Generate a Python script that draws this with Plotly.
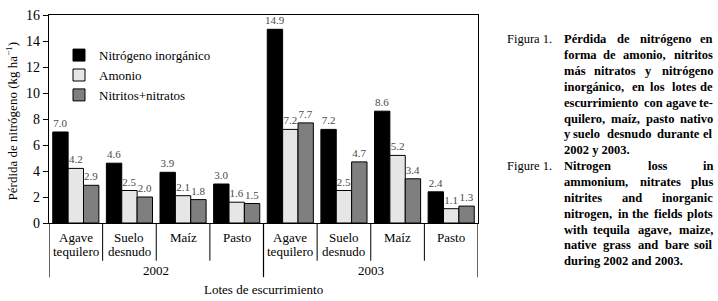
import plotly.graph_objects as go

# ---- data ----
lotes = ["Agave\ntequilero", "Suelo\ndesnudo", "Maíz", "Pasto",
         "Agave\ntequilero", "Suelo\ndesnudo", "Maíz", "Pasto"]
years = ["2002", "2003"]
series_names = ["Nitrógeno inorgánico", "Amonio", "Nitritos+nitratos"]
inorganico = [7.0, 4.6, 3.9, 3.0, 14.9, 7.2, 8.6, 2.4]
amonio = [4.2, 2.5, 2.1, 1.6, 7.2, 2.5, 5.2, 1.1]
nitritos_nitratos = [2.9, 2.0, 1.8, 1.5, 7.7, 4.7, 3.4, 1.3]
y_ticks = [0, 2, 4, 6, 8, 10, 12, 14, 16]

caption_es = ["Pérdida de nitrógeno en", "forma de amonio, nitritos",
              "más nitratos y nitrógeno", "inorgánico, en los lotes de",
              "escurrimiento con agave te-", "quilero, maíz, pasto nativo",
              "y suelo desnudo durante el", "2002 y 2003."]
caption_en = ["Nitrogen loss in", "ammonium, nitrates plus",
              "nitrites and inorganic", "nitrogen, in the fields plots",
              "with tequila agave, maize,", "native grass and bare soil",
              "during 2002 and 2003."]

# ---- layout geometry (pixels) ----
W, H = 718, 301
L, R, T, B = 49, 240, 8, 78
PW = W - L - R
PH = H - T - B
SERIF = "Liberation Serif"


def px_x(px):
    return (px - L) / PW


def px_y(py):
    return (H - B - py) / PH


colors = ["#000000", "#e6e6e6", "#7f7f7f"]
x = list(range(len(lotes)))

fig = go.Figure()
for name, vals, col in zip(series_names, [inorganico, amonio, nitritos_nitratos], colors):
    fig.add_trace(go.Bar(
        x=x, y=vals, name=name,
        marker=dict(color=col, line=dict(color="black", width=1)),
        text=vals, texttemplate="%{y:.1f}", textposition="outside",
        constraintext="none", cliponaxis=False,
        textfont=dict(family=SERIF, size=11, color="#4a4a4a"),
    ))

annotations = []
shapes = []

# category labels
for i, lab in enumerate(lotes):
    for j, line in enumerate(lab.split("\n")):
        annotations.append(dict(x=i, y=px_y(238 + 14 * j), xref="x", yref="paper",
                                text=line, showarrow=False, yanchor="middle",
                                font=dict(family=SERIF, size=13, color="black")))
# inner dividers
n_per_year = len(lotes) // len(years)
for k in range(1, len(lotes)):
    if k % n_per_year == 0:
        continue
    shapes.append(dict(type="line", xref="x", yref="paper", x0=k - 0.5, x1=k - 0.5,
                       y0=0, y1=px_y(262), line=dict(color="black", width=1)))
# outer dividers
for k in range(0, len(lotes) + 1, n_per_year):
    shapes.append(dict(type="line", xref="x", yref="paper", x0=k - 0.5, x1=k - 0.5,
                       y0=0, y1=px_y(279), line=dict(color="black", width=1.2)))
# year labels
for yi, yr in enumerate(years):
    annotations.append(dict(x=yi * n_per_year + (n_per_year - 1) / 2, y=px_y(272),
                            xref="x", yref="paper", text=yr, showarrow=False,
                            yanchor="middle",
                            font=dict(family=SERIF, size=13, color="black")))
# x title
annotations.append(dict(x=0.5, y=px_y(292), xref="paper", yref="paper",
                        text="Lotes de escurrimiento", showarrow=False, yanchor="middle",
                        font=dict(family=SERIF, size=13, color="black")))
# y title
annotations.append(dict(x=px_x(12), y=px_y(118), xref="paper", yref="paper",
                        text="Pérdida de nitrógeno (kg ha<sup>−1</sup>)", textangle=-90,
                        showarrow=False, xanchor="center", yanchor="middle",
                        font=dict(family=SERIF, size=13, color="black")))

# ---- caption (justified) ----
CW = {c: 0.5 for c in "abcdghknopquvxyz0123456789"}
CW.update({"a": .5, "b": .556, "c": .444, "d": .556, "e": .444, "f": .333, "h": .556,
           "i": .278, "j": .333, "l": .278, "m": .833, "n": .556, "p": .556, "q": .556,
           "r": .444, "s": .389, "t": .333, "u": .556, "w": .722, "z": .444,
           ",": .25, ".": .25, "-": .333, "á": .5, "í": .278, "é": .444, "ó": .5})
CAP_SIZE = 12.5
WSCALE = 1.07
X0, X1 = 562, 715


def wwidth(w):
    return sum(CW.get(c, 0.72) for c in w) * CAP_SIZE * WSCALE


def cap_ann(px, py, text, anchor):
    annotations.append(dict(x=px_x(px), y=px_y(py), xref="paper", yref="paper",
                            text=text, showarrow=False, xanchor=anchor, yanchor="middle",
                            font=dict(family=SERIF, size=CAP_SIZE, color="black")))


def add_par(lines, label, k0):
    for li, line in enumerate(lines):
        py = 33 + 16.4 * (k0 + li)
        if li == 0:
            cap_ann(505, py, label, "left")
        words = line.split(" ")
        if li == len(lines) - 1 or len(words) == 1:
            cap_ann(X0, py, "<b>%s</b>" % line, "left")
            continue
        widths = [wwidth(w) for w in words]
        gap = (X1 - X0 - sum(widths)) / (len(words) - 1)
        cx = X0
        for wi, (w, ww) in enumerate(zip(words, widths)):
            if wi == 0:
                cap_ann(X0, py, "<b>%s</b>" % w, "left")
            elif wi == len(words) - 1:
                cap_ann(X1, py, "<b>%s</b>" % w, "right")
            else:
                cap_ann(cx + ww / 2, py, "<b>%s</b>" % w, "center")
            cx += ww + gap


add_par(caption_es, "Figura 1.", 0)
add_par(caption_en, "Figure 1.", len(caption_es))

fig.update_layout(
    width=W, height=H,
    margin=dict(l=L, r=R, t=T, b=B),
    paper_bgcolor="white", plot_bgcolor="white",
    barmode="group", bargap=0.14, bargroupgap=0,
    font=dict(family=SERIF, size=13, color="black"),
    showlegend=True,
    legend=dict(x=px_x(59), y=px_y(34), xanchor="left", yanchor="top",
                bgcolor="rgba(0,0,0,0)", font=dict(family=SERIF, size=13),
                tracegroupgap=0, itemwidth=30),
    xaxis=dict(range=[-0.5, len(lotes) - 0.5], showticklabels=False, ticks="",
               showline=True, linecolor="black", linewidth=1.2, mirror=True,
               showgrid=False, zeroline=False, fixedrange=True),
    yaxis=dict(range=[0, 16], tickvals=y_ticks, ticks="outside", ticklen=5,
               tickcolor="black", showline=True, linecolor="black", linewidth=1.2,
               mirror=True, showgrid=False, zeroline=False,
               tickfont=dict(family=SERIF, size=14, color="black")),
    annotations=annotations, shapes=shapes,
)

fig.write_html("out.html", config={"displayModeBar": False},
               post_script="document.body.style.margin='0';")
